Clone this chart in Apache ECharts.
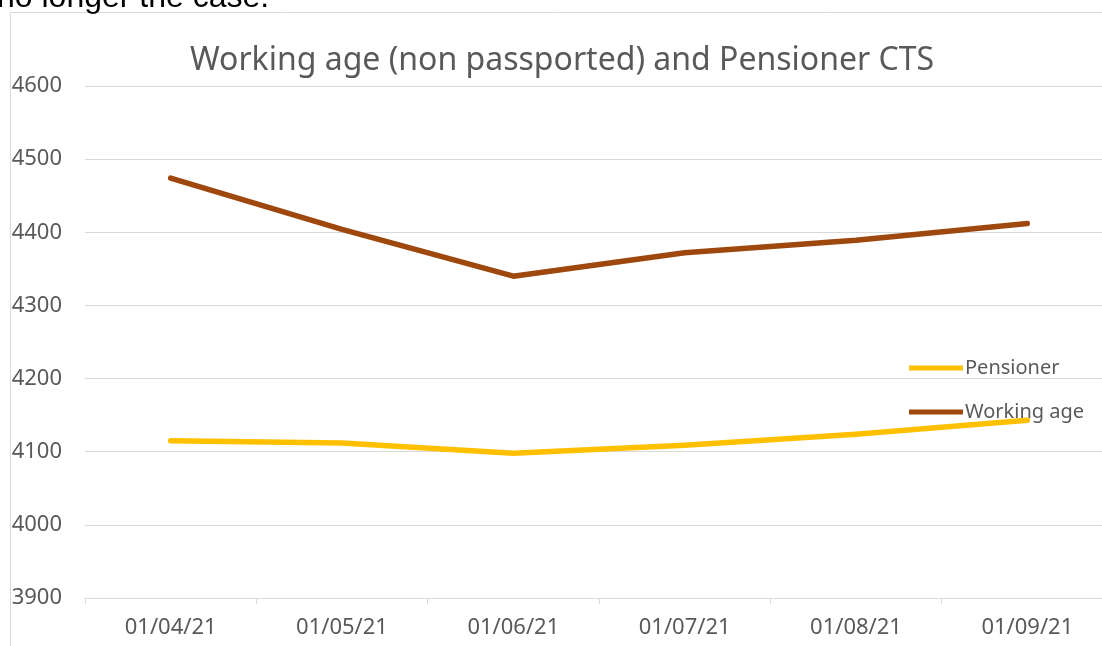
<!DOCTYPE html>
<html>
<head>
<meta charset="utf-8">
<script src="https://cdn.jsdelivr.net/npm/echarts@6/dist/echarts.min.js"></script>
<style>
	html, body { margin: 0; padding: 0; background: #fff; }
	#chart { width: 1102px; height: 646px; }
</style>
</head>
<body>
<div id="chart"></div>
<script>
	// 数据
	const months = ["01/04/21", "01/05/21", "01/06/21", "01/07/21", "01/08/21", "01/09/21"];
	const pensioner = [4115, 4112, 4098, 4109, 4124, 4143];
	const workingAge = [4474, 4404, 4340, 4372, 4389, 4412];
	const yTicks = { min: 3900, max: 4600, interval: 100 };

	const textColor = "#595959";
	const gridColor = "#d9d9d9";
	const font = "Noto Sans";

	const chart = echarts.init(document.getElementById("chart"));

	const option = {
		animation: false,
		backgroundColor: "#fff",
		title: {
			text: "Working age (non passported) and Pensioner CTS",
			left: 557,
			textAlign: "center",
			top: 40,
			textStyle: {
				color: textColor,
				fontFamily: font,
				fontWeight: "normal",
				fontSize: 32,
			},
		},
		legend: {
			orient: "vertical",
			left: 904,
			top: 353,
			itemWidth: 54,
			itemHeight: 14,
			itemGap: 24,
			icon: "path://M0,4.5 L54,4.5 L54,9.5 L0,9.5 Z",
			data: ["Pensioner", "Working age"],
			textStyle: {
				color: textColor,
				fontFamily: font,
				fontSize: 20,
				padding: [0, 0, 0, -3],
			},
		},
		graphic: [
			{
				type: "rect",
				shape: { x: 10.5, y: 12.5, width: 1200, height: 700 },
				style: { fill: "none", stroke: gridColor, lineWidth: 1 },
				silent: true,
			},
			{
				type: "text",
				left: -3,
				top: -18,
				style: {
					text: "no longer the case.",
					fill: "#000",
					font: "32px 'Liberation Sans'",
				},
				silent: true,
			},
		],
		grid: {
			left: 85,
			top: 86,
			width: 1028,
			height: 512,
			containLabel: false,
			outerBoundsMode: "none",
		},
		xAxis: {
			type: "category",
			data: months,
			boundaryGap: true,
			axisLine: { lineStyle: { color: gridColor, width: 1 } },
			axisTick: { show: true, length: 6, lineStyle: { color: gridColor } },
			axisLabel: {
				color: textColor,
				fontFamily: font,
				fontSize: 22,
				margin: 19,
			},
		},
		yAxis: {
			type: "value",
			min: yTicks.min,
			max: yTicks.max,
			interval: yTicks.interval,
			axisLine: { show: false },
			axisTick: { show: false },
			axisLabel: {
				color: textColor,
				fontFamily: font,
				fontSize: 22,
				margin: 23,
				formatter: (v) => String(v),
			},
			splitLine: { lineStyle: { color: gridColor, width: 1 } },
		},
		series: [
			{
				name: "Pensioner",
				type: "line",
				data: pensioner,
				symbol: "none",
				itemStyle: { color: "#FFC000" },
				lineStyle: { color: "#FFC000", width: 5.5, cap: "round", join: "round" },
			},
			{
				name: "Working age",
				type: "line",
				data: workingAge,
				symbol: "none",
				itemStyle: { color: "#9E480E" },
				lineStyle: { color: "#9E480E", width: 5.5, cap: "round", join: "round" },
			},
		],
	};

	chart.setOption(option);
</script>
</body>
</html>
